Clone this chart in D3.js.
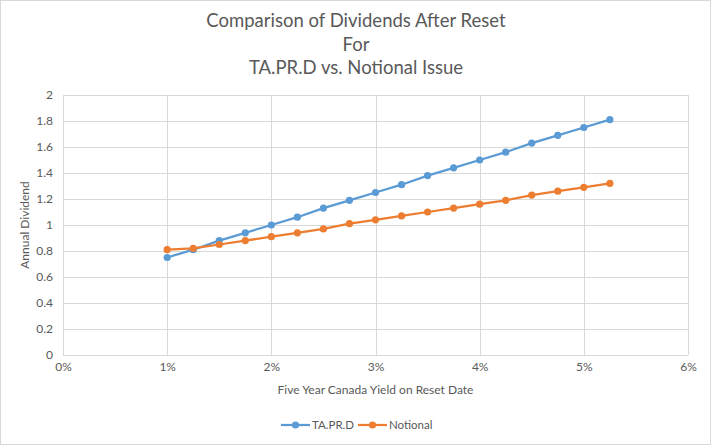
<!DOCTYPE html>
<html>
<head>
<meta charset="utf-8">
<script src="https://cdn.jsdelivr.net/npm/d3@7"></script>
<style>
  body { margin: 0; background: #fff; }
  text { font-family: Lato, "Open Sans", sans-serif; fill: #595959; }
</style>
</head>
<body>
<svg></svg>
<script>
var width = 711,
	height = 445;

// yields (%) on reset date
var yields = [1, 1.25, 1.5, 1.75, 2, 2.25, 2.5, 2.75, 3, 3.25, 3.5, 3.75, 4, 4.25, 4.5, 4.75, 5, 5.25];
var tapr = [0.75, 0.81, 0.88, 0.94, 1.00, 1.06, 1.13, 1.19, 1.25, 1.31, 1.38, 1.44, 1.50, 1.56, 1.63, 1.69, 1.75, 1.81];
var notional = [0.81, 0.82, 0.85, 0.88, 0.91, 0.94, 0.97, 1.01, 1.04, 1.07, 1.10, 1.13, 1.16, 1.19, 1.23, 1.26, 1.29, 1.32];
var xTicks = [0, 1, 2, 3, 4, 5, 6];
var yTicks = [0, 0.2, 0.4, 0.6, 0.8, 1, 1.2, 1.4, 1.6, 1.8, 2];
var titleLines = ["Comparison of Dividends After Reset", "For", "TA.PR.D vs. Notional Issue"];
var seriesNames = ["TA.PR.D", "Notional"];
var colors = ["#5B9BD5", "#ED7D31"];

var svg = d3.select("svg")
			.attr("width", width)
			.attr("height", height);

svg.append("rect")
	.attr("x", 0.5).attr("y", 0.5)
	.attr("width", width - 1).attr("height", height - 1)
	.attr("fill", "#fff")
	.attr("stroke", "#D9D9D9");

var x = d3.scaleLinear().domain([0, 6]).range([63, 688]);
var y = d3.scaleLinear().domain([0, 2]).range([355, 95]);

// title
svg.append("g").selectAll("text")
	.data(titleLines)
	.enter()
	.append("text")
	.attr("x", 356)
	.attr("y", function(d, i) { return 27 + i * 23.5; })
	.attr("text-anchor", "middle")
	.style("font-size", "18.5px")
	.text(function(d) { return d; });

// gridlines
var grid = svg.append("g");
grid.selectAll(".hg")
	.data(yTicks)
	.enter()
	.append("line")
	.attr("x1", x(0)).attr("x2", x(6))
	.attr("y1", function(d) { return Math.round(y(d)) + 0.5; })
	.attr("y2", function(d) { return Math.round(y(d)) + 0.5; })
	.attr("stroke", "#D9D9D9");
grid.selectAll(".vg")
	.data(xTicks)
	.enter()
	.append("line")
	.attr("y1", y(0)).attr("y2", y(2))
	.attr("x1", function(d) { return Math.round(x(d)) + 0.5; })
	.attr("x2", function(d) { return Math.round(x(d)) + 0.5; })
	.attr("stroke", "#D9D9D9");

// axes (labels only)
var xAxis = svg.append("g")
	.attr("transform", "translate(0," + (y(0) + 4) + ")")
	.call(d3.axisBottom(x).tickValues(xTicks).tickSize(0).tickFormat(function(d) { return d + "%"; }));
var yAxis = svg.append("g")
	.attr("transform", "translate(" + (x(0) - 7) + ",0)")
	.call(d3.axisLeft(y).tickValues(yTicks).tickSize(0).tickFormat(d3.format("~g")));
[xAxis, yAxis].forEach(function(a) {
	a.select(".domain").remove();
	a.selectAll("text")
		.style("font-size", "12px")
		.attr("fill", "#595959")
		.style("font-family", "Lato, 'Open Sans', sans-serif");
});

// axis titles
svg.append("text")
	.attr("x", x(3))
	.attr("y", 394)
	.attr("text-anchor", "middle")
	.style("font-size", "12px")
	.text("Five Year Canada Yield on Reset Date");
svg.append("text")
	.attr("transform", "translate(29," + y(1) + ") rotate(-90)")
	.attr("text-anchor", "middle")
	.style("font-size", "12px")
	.text("Annual Dividend");

// series
var series = [tapr, notional];
var line = d3.line()
	.x(function(d, i) { return x(yields[i]); })
	.y(function(d) { return y(d); });

series.forEach(function(vals, s) {
	var g = svg.append("g");
	g.append("path")
		.attr("d", line(vals))
		.attr("fill", "none")
		.attr("stroke", colors[s])
		.attr("stroke-width", 2.25);
	g.selectAll("circle")
		.data(vals)
		.enter()
		.append("circle")
		.attr("cx", function(d, i) { return x(yields[i]); })
		.attr("cy", function(d) { return y(d); })
		.attr("r", 3.6)
		.attr("fill", colors[s]);
});

// legend
var legend = svg.append("g")
	.selectAll("g")
	.data(seriesNames)
	.enter()
	.append("g")
	.attr("transform", function(d, i) { return "translate(" + (281 + i * 77) + ",425)"; });
legend.append("line")
	.attr("x1", 0).attr("x2", 29)
	.attr("stroke", function(d, i) { return colors[i]; })
	.attr("stroke-width", 2.25);
legend.append("circle")
	.attr("cx", 14.5)
	.attr("r", 3.6)
	.attr("fill", function(d, i) { return colors[i]; });
legend.append("text")
	.attr("x", 31)
	.attr("y", 4)
	.style("font-size", "11.5px")
	.text(function(d) { return d; });
</script>
</body>
</html>
